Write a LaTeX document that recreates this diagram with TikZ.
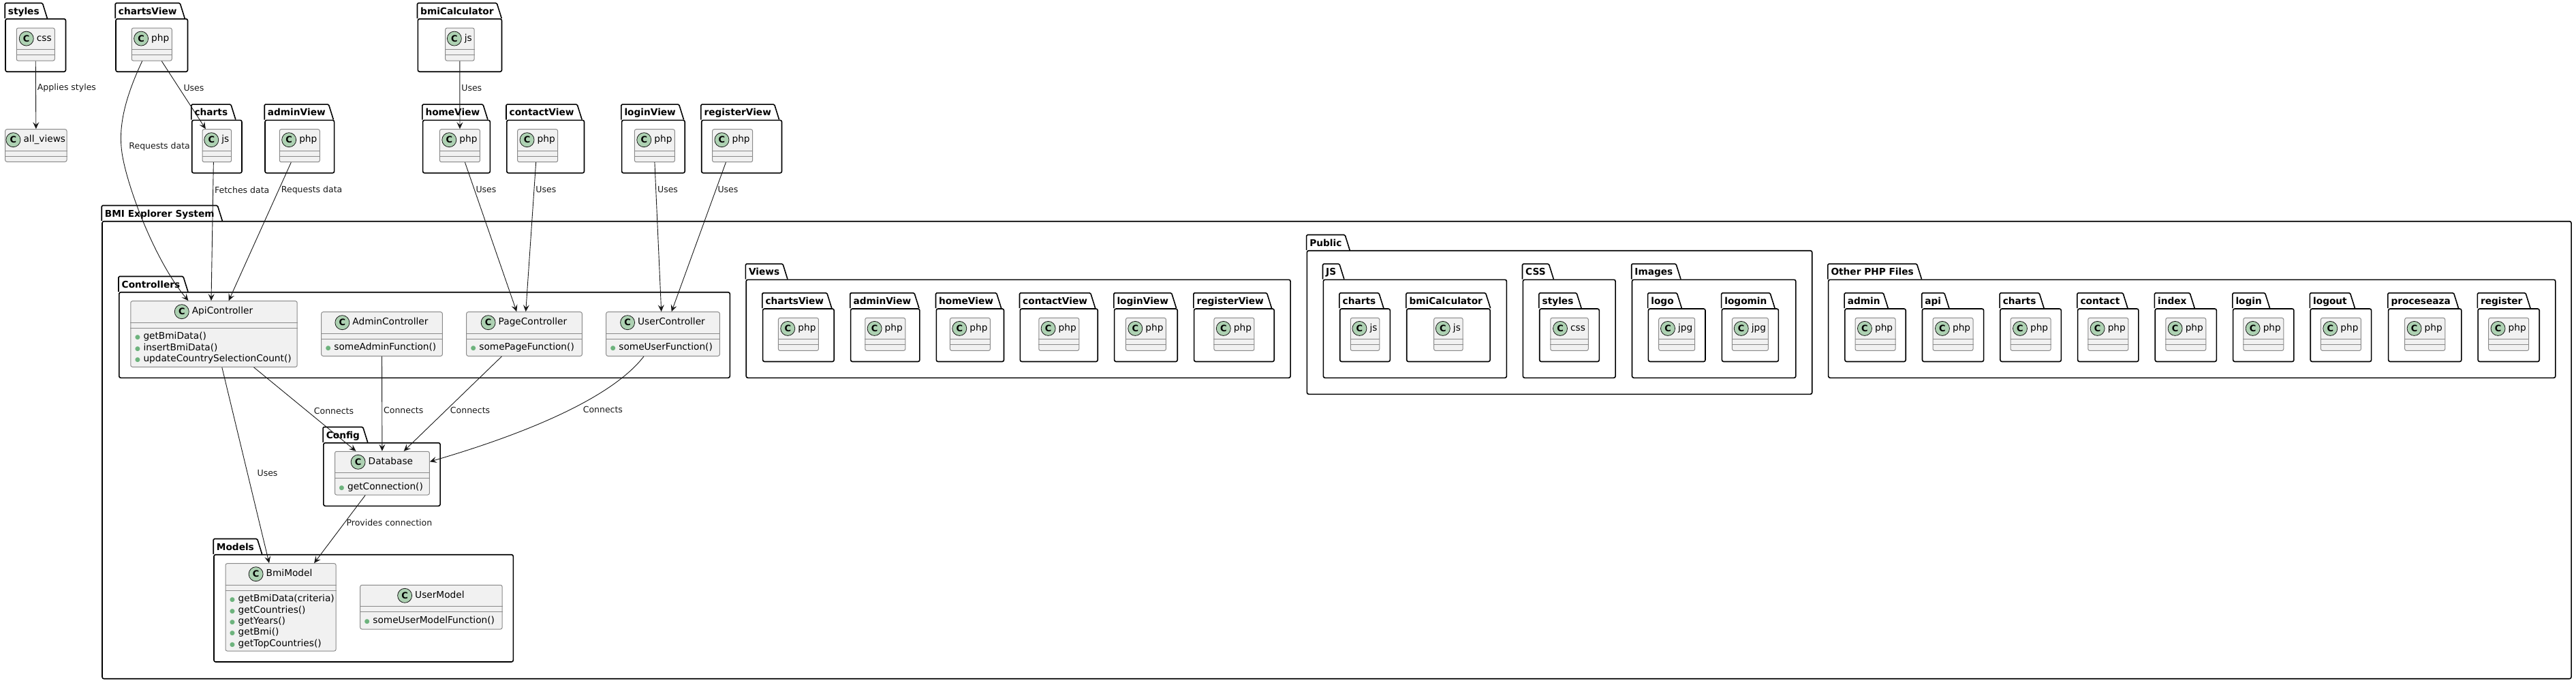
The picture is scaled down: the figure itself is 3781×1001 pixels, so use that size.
\documentclass[tikz,border=0pt]{standalone}
\usepackage{fontspec}
\setmainfont{DejaVu Sans}
\usepackage{tikz}
\usetikzlibrary{calc}
\usetikzlibrary{arrows.meta, positioning, shapes, fit}

\definecolor{clsfill}{HTML}{F1F1F1}
\definecolor{clsdraw}{HTML}{8A8A8A}
\definecolor{iconfill}{HTML}{ADD1B2}
\definecolor{pubgreen}{HTML}{6DB37D}
\definecolor{edge}{HTML}{181818}

% package: id, x1, tab top, x2, bottom, title
\newcommand{\umlpkg}[6]{%
  \node[pkgbody, fit={({#2},{#3+22}) ({#4},{#5})}] (#1) {};
  \node[pkgtab] (#1-t) at (#1.north west) {#6};
  \path[pkgline] (#1-t.south west) -- (#1-t.north west) -- (#1-t.north east) -- ([xshift=7pt]#1-t.south east);
}
% class: id, x1, y1, x2, y2, name
\newcommand{\umlcls}[6]{%
  \node[clsbox, fit={({#2},{#3}) ({#4},{#5})}] (#1) {};
  \path[clsline] ($(#1.north west)+(0,32)$) -- ($(#1.north east)+(0,32)$) ($(#1.north west)+(0,40)$) -- ($(#1.north east)+(0,40)$);
  \node[clsname] (#1-n) at ($(#1.north)+(12.5,16)$) {#6};
  \node[clsicon, left=4pt of #1-n] (#1-i) {C};
}
% package holding one class: [dx], id, x1, x2, tab top, title, class width, class name
\newcommand{\umlleaf}[8][0]{%
  \umlpkg{#2}{#3}{#5}{#4}{#5+99.5}{#6}%
  \umlcls{#2-c}{(#3+#4)/2+(#1)-#7/2}{#5+35.4}{(#3+#4)/2+(#1)+#7/2}{#5+83.4}{#8}%
}
\newcommand{\umlpub}{\makebox[14pt][l]{\hspace{1.5pt}{\color{pubgreen}\fontsize{9}{9}\selectfont ●}}}

\begin{document}
\begin{tikzpicture}[x=1pt, y=-1pt]

  % Define styles
  \tikzstyle{pkgbody} = [rectangle, draw, line width=1.6pt, rounded corners=2.5pt, inner sep=0pt]
  \tikzstyle{pkgtab} = [anchor=south west, inner xsep=4.5pt, inner ysep=0pt, minimum height=22pt,
    text height=11pt, text depth=0pt, font=\bfseries\fontsize{13.7}{16}\selectfont]
  \tikzstyle{pkgline} = [draw, line width=1.6pt, line join=round, rounded corners=1.5pt]
  \tikzstyle{clsbox} = [rectangle, draw=clsdraw, fill=clsfill, line width=1pt, rounded corners=2.5pt, inner sep=0pt]
  \tikzstyle{clsline} = [draw=clsdraw, line width=1pt]
  \tikzstyle{clsname} = [inner sep=0pt, text height=10pt, text depth=2.5pt, font=\fontsize{13.7}{16}\selectfont]
  \tikzstyle{clsicon} = [circle, draw=edge, fill=iconfill, line width=0.8pt, minimum size=21pt, inner sep=0pt,
    font=\bfseries\fontsize{13}{13}\selectfont]
  \tikzstyle{ops} = [anchor=north west, inner sep=0pt, align=left, font=\fontsize{13.7}{16.3}\selectfont]
  \tikzstyle{lbl} = [inner sep=2pt, font=\fontsize{12.5}{15}\selectfont]
  \tikzstyle{line} = [draw, -{Stealth[length=10pt, width=9pt, inset=4pt]}, color=edge, line width=0.9pt]

  \useasboundingbox (0,0) rectangle (3781,1001);

  % Outside packages
  \umlleaf{stl}{8}{96.5}{5.7}{styles}{56}{css}
  \umlleaf{cvw}{170}{275.5}{5.7}{chartsView}{59}{php}
  \umlleaf{bmc}{613.3}{736.5}{5.7}{bmiCalculator}{42.5}{js}
  \umlleaf{chr}{281.7}{355}{154.3}{charts}{42.5}{js}
  \umlleaf{avw}{389}{490.6}{154.3}{adminView}{59}{php}
  \umlleaf[5]{hvw}{620.6}{719.3}{154.3}{homeView}{59}{php}
  \umlleaf[-11.5]{ctv}{743.8}{857.5}{154.3}{contactView}{59}{php}
  \umlleaf[2]{lvw}{912.6}{1005.2}{154.3}{loginView}{59}{php}
  \umlleaf[-13.5]{rvw}{1029.7}{1147.5}{154.3}{registerView}{59}{php}
  \umlcls{allviews}{7.7}{189.7}{98}{237.3}{all\_views}

  % BMI Explorer System
  \umlpkg{bmi}{150}{302.7}{3774}{995.7}{BMI Explorer System}
  \umlpkg{ctl}{174.8}{406.7}{1071.3}{554.3}{Controllers}
  \umlpkg{vws}{1095.2}{388.3}{1894.1}{554.3}{Views}
  \umlpkg{pub}{1918.4}{345.7}{2659.7}{578.3}{Public}
  \umlpkg{pjs}{1942.3}{388.3}{2211.4}{554.3}{JS}
  \umlpkg{pcs}{2235.3}{388.3}{2371.1}{554.3}{CSS}
  \umlpkg{pim}{2395.5}{388.3}{2635.8}{554.3}{Images}
  \umlpkg{oth}{2683.6}{388.3}{3750.8}{554.3}{Other PHP Files}
  \umlpkg{cfg}{474.9}{627.7}{646.1}{742.3}{Config}
  \umlpkg{mdl}{314}{791.7}{753.3}{971}{Models}

  % Controllers, Config, Models
  \umlcls{api}{191.8}{441.7}{436.2}{538.3}{ApiController}
  \umlcls{adm}{471.7}{457.7}{649.3}{522.3}{AdminController}
  \umlcls{pag}{684.7}{457.7}{854.3}{522.3}{PageController}
  \umlcls{usr}{889.7}{457.7}{1056.3}{522.3}{UserController}
  \umlcls{db}{491.5}{662.3}{630.3}{726}{Database}
  \umlcls{bmim}{331}{826.7}{493.1}{955}{BmiModel}
  \umlcls{usrm}{528.7}{858.3}{737.1}{923}{UserModel}
  \node[ops] (api-m) at ($(api.north west)+(5,46)$) {\umlpub getBmiData()\\\umlpub insertBmiData()\\\umlpub updateCountrySelectionCount()};
  \node[ops] (adm-m) at ($(adm.north west)+(5,46)$) {\umlpub someAdminFunction()};
  \node[ops] (pag-m) at ($(pag.north west)+(5,46)$) {\umlpub somePageFunction()};
  \node[ops] (usr-m) at ($(usr.north west)+(5,46)$) {\umlpub someUserFunction()};
  \node[ops] (db-m) at ($(db.north west)+(5,46)$) {\umlpub getConnection()};
  \node[ops] (bmim-m) at ($(bmim.north west)+(5,46)$) {\umlpub getBmiData(criteria)\\\umlpub getCountries()\\\umlpub getYears()\\\umlpub getBmi()\\\umlpub getTopCountries()};
  \node[ops] (usrm-m) at ($(usrm.north west)+(5,46)$) {\umlpub someUserModelFunction()};

  % Views
  \umlleaf{vch}{1119.6}{1224.2}{431}{chartsView}{59}{php}
  \umlleaf{vad}{1248.6}{1349.9}{431}{adminView}{59}{php}
  \umlleaf{vho}{1374.3}{1473.5}{431}{homeView}{59}{php}
  \umlleaf{vco}{1497.3}{1611.2}{431}{contactView}{59}{php}
  \umlleaf{vlo}{1635.6}{1728.2}{431}{loginView}{59}{php}
  \umlleaf{vre}{1752.6}{1870.2}{431}{registerView}{59}{php}

  % Public
  \umlleaf{jch}{1966.7}{2040.3}{431}{charts}{42.5}{js}
  \umlleaf{jbc}{2064.7}{2187.1}{431}{bmiCalculator}{42.5}{js}
  \umlleaf{cst}{2259.7}{2347.3}{431}{styles}{55.5}{css}
  \umlleaf{ilg}{2419.4}{2503}{431}{logo}{53}{jpg}
  \umlleaf{ilm}{2527.4}{2610.4}{431}{logomin}{53}{jpg}

  % Other PHP Files
  \umlleaf{oad}{2707.9}{2797.2}{431}{admin}{59}{php}
  \umlleaf{oap}{2821.5}{2911.6}{431}{api}{59}{php}
  \umlleaf{och}{2935.9}{3025.3}{431}{charts}{59}{php}
  \umlleaf{oco}{3049.6}{3138.9}{431}{contact}{59}{php}
  \umlleaf{oin}{3163.2}{3253.3}{431}{index}{59}{php}
  \umlleaf{oli}{3277.6}{3366.9}{431}{login}{59}{php}
  \umlleaf{olo}{3391.2}{3480.6}{431}{logout}{59}{php}
  \umlleaf{opr}{3505.6}{3612.8}{431}{proceseaza}{59}{php}
  \umlleaf{ore}{3637.1}{3727.2}{431}{register}{59}{php}

  % Paths
  \path [line] (stl-c.south) -- node[lbl, pos=.4, anchor=west] (lb1) {Applies styles} (allviews.north);
  \path [line] ([xshift=14.5pt]cvw-c.south) -- node[lbl, pos=.4, anchor=west, xshift=4pt] (lb2) {Uses} ([xshift=-16.5pt]chr-c.north);
  \path [line] ([xshift=-14pt]cvw-c.south) .. controls (185,140) and (175,180) .. (178,215)
    node[lbl, anchor=west, xshift=9pt] (lb3) {Requests data}
    .. controls (181,260) and (225,380) .. ([xshift=-37.5pt]api.north);
  \path [line] ([xshift=-5pt]chr-c.south) -- node[lbl, pos=.2, anchor=west] (lb4) {Fetches data} ([xshift=-4pt]api.north);
  \path [line] ([xshift=-12.5pt]avw-c.south) -- node[lbl, pos=.2, anchor=west, xshift=1.5pt] (lb5) {Requests data} ([xshift=21.7pt]api.north);
  \path [line] (bmc-c.south) -- node[lbl, pos=.4, anchor=west] (lb6) {Uses} (hvw-c.north);
  \path [line] ([xshift=7.5pt]hvw-c.south) -- node[lbl, pos=.18, anchor=west] (lb7) {Uses} ([xshift=-11.2pt]pag.north);
  \path [line] ([xshift=-2.5pt]ctv-c.south) -- node[lbl, pos=.18, anchor=west] (lb8) {Uses} ([xshift=2.2pt]pag.north);
  \path [line] (lvw-c.south) -- node[lbl, pos=.18, anchor=west] (lb9) {Uses} ([xshift=-2.3pt]usr.north);
  \path [line] ([xshift=-9.7pt]rvw-c.south) -- node[lbl, pos=.18, anchor=west] (lb10) {Uses} ([xshift=12.7pt]usr.north);
  \path [line] ([xshift=58.5pt]api.south) -- node[lbl, pos=.52, anchor=west, xshift=8pt] (lb11) {Connects} ([xshift=-38.5pt]db.north);
  \path [line] (adm.south) -- node[lbl, pos=.57, anchor=west] (lb12) {Connects} (db.north);
  \path [line] ([xshift=-33pt]pag.south) -- node[lbl, pos=.57, anchor=west, xshift=4pt] (lb13) {Connects} ([xshift=31.8pt]db.north);
  \path [line] ([xshift=-28pt]usr.south) .. controls (905,575) and (800,628) ..
    node[lbl, pos=.5, anchor=west, xshift=17pt] (lb14) {Connects} ([yshift=16.85pt]db.east);
  \path [line] ([xshift=11.8pt]api.south) -- node[lbl, pos=.54, anchor=west, xshift=12pt] (lb15) {Uses} ([xshift=-17pt]bmim.north);
  \path [line] ([xshift=-24.7pt]db.south) -- node[lbl, pos=.4, anchor=west] (lb16) {Provides connection} ([xshift=49pt]bmim.north);
\end{tikzpicture}
\end{document}
